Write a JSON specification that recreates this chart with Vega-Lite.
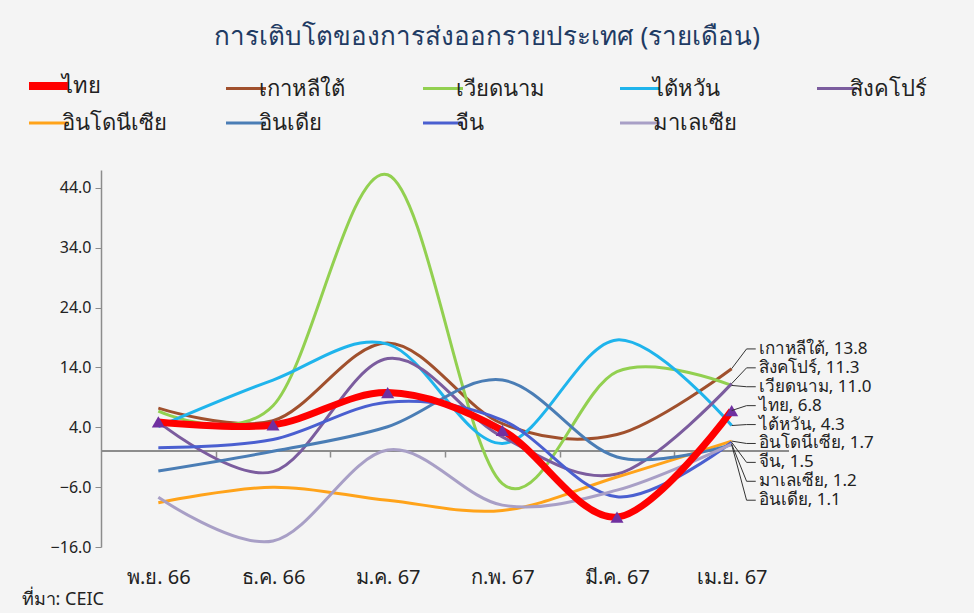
{
  "$schema": "https://vega.github.io/schema/vega-lite/v6.json",
  "width": 688,
  "height": 377,
  "autosize": {"type": "none"},
  "padding": {"left": 101, "top": 170, "right": 185, "bottom": 66},
  "background": "#f4f4f4",
  "config": {"font": "Noto Sans", "view": {"stroke": null}},
  "title": {
    "text": "การเติบโตของการส่งออกรายประเทศ (รายเดือน)",
    "fontSize": 26,
    "fontWeight": "normal",
    "color": "#1f3b63",
    "anchor": "middle",
    "dx": 42,
    "offset": 25
  },
  "datasets": {
    "s": [
      {"country": "ไทย", "m": 0, "value": 4.9},
      {"country": "ไทย", "m": 1, "value": 4.4},
      {"country": "ไทย", "m": 2, "value": 9.8},
      {"country": "ไทย", "m": 3, "value": 3.5},
      {"country": "ไทย", "m": 4, "value": -11.0},
      {"country": "ไทย", "m": 5, "value": 6.8},
      {"country": "เกาหลีใต้", "m": 0, "value": 7.2},
      {"country": "เกาหลีใต้", "m": 1, "value": 5.1},
      {"country": "เกาหลีใต้", "m": 2, "value": 18.1},
      {"country": "เกาหลีใต้", "m": 3, "value": 4.6},
      {"country": "เกาหลีใต้", "m": 4, "value": 2.8},
      {"country": "เกาหลีใต้", "m": 5, "value": 13.8},
      {"country": "เวียดนาม", "m": 0, "value": 6.7},
      {"country": "เวียดนาม", "m": 1, "value": 7.6},
      {"country": "เวียดนาม", "m": 2, "value": 46.2},
      {"country": "เวียดนาม", "m": 3, "value": -5.4},
      {"country": "เวียดนาม", "m": 4, "value": 13.3},
      {"country": "เวียดนาม", "m": 5, "value": 11.0},
      {"country": "ไต้หวัน", "m": 0, "value": 4.1},
      {"country": "ไต้หวัน", "m": 1, "value": 11.9},
      {"country": "ไต้หวัน", "m": 2, "value": 17.9},
      {"country": "ไต้หวัน", "m": 3, "value": 1.3},
      {"country": "ไต้หวัน", "m": 4, "value": 18.6},
      {"country": "ไต้หวัน", "m": 5, "value": 4.3},
      {"country": "สิงคโปร์", "m": 0, "value": 4.9},
      {"country": "สิงคโปร์", "m": 1, "value": -3.4},
      {"country": "สิงคโปร์", "m": 2, "value": 15.5},
      {"country": "สิงคโปร์", "m": 3, "value": 2.4},
      {"country": "สิงคโปร์", "m": 4, "value": -3.8},
      {"country": "สิงคโปร์", "m": 5, "value": 11.3},
      {"country": "อินโดนีเซีย", "m": 0, "value": -8.6},
      {"country": "อินโดนีเซีย", "m": 1, "value": -6.0},
      {"country": "อินโดนีเซีย", "m": 2, "value": -8.2},
      {"country": "อินโดนีเซีย", "m": 3, "value": -9.9},
      {"country": "อินโดนีเซีย", "m": 4, "value": -4.3},
      {"country": "อินโดนีเซีย", "m": 5, "value": 1.7},
      {"country": "อินเดีย", "m": 0, "value": -3.3},
      {"country": "อินเดีย", "m": 1, "value": 0.0},
      {"country": "อินเดีย", "m": 2, "value": 4.1},
      {"country": "อินเดีย", "m": 3, "value": 11.9},
      {"country": "อินเดีย", "m": 4, "value": -0.95},
      {"country": "อินเดีย", "m": 5, "value": 1.1},
      {"country": "จีน", "m": 0, "value": 0.6},
      {"country": "จีน", "m": 1, "value": 1.95},
      {"country": "จีน", "m": 2, "value": 8.2},
      {"country": "จีน", "m": 3, "value": 5.2},
      {"country": "จีน", "m": 4, "value": -7.6},
      {"country": "จีน", "m": 5, "value": 1.5},
      {"country": "มาเลเซีย", "m": 0, "value": -7.7},
      {"country": "มาเลเซีย", "m": 1, "value": -15.0},
      {"country": "มาเลเซีย", "m": 2, "value": 0.2},
      {"country": "มาเลเซีย", "m": 3, "value": -9.0},
      {"country": "มาเลเซีย", "m": 4, "value": -6.5},
      {"country": "มาเลเซีย", "m": 5, "value": 1.2}
    ]
  },
  "data": {"name": "s"},
  "resolve": {"axis": {"x": "independent"}},
  "layer": [
    {
      "mark": {"type": "rule", "color": "#8c8c8c", "strokeWidth": 1.5},
      "encoding": {
        "y": {"datum": 0, "type": "quantitative", "scale": {"domain": [-16, 47], "nice": false, "zero": false}, "axis": {"title": null}}
      }
    },
    {
      "mark": {"type": "point", "opacity": 0},
      "encoding": {
        "x": {
          "field": "m",
          "type": "quantitative",
          "axis": {
            "orient": "bottom",
            "offset": -96,
            "values": [0.5, 1.5, 2.5, 3.5, 4.5],
            "labels": false,
            "domain": false,
            "grid": false,
            "ticks": true,
            "tickSize": 6,
            "tickWidth": 1.5,
            "tickColor": "#8c8c8c",
            "title": null
          }
        },
        "y": {"field": "value", "type": "quantitative"}
      }
    },
    {
      "transform": [{"filter": "datum.country !== 'ไทย'"}],
      "mark": {"type": "line", "interpolate": "cardinal", "strokeWidth": 3},
      "encoding": {
        "x": {
          "field": "m",
          "type": "quantitative",
          "scale": {"domain": [-0.5, 5.5], "nice": false, "zero": false},
          "axis": {
            "orient": "bottom",
            "values": [0, 1, 2, 3, 4, 5],
            "labelExpr": "['พ.ย. 66','ธ.ค. 66','ม.ค. 67','ก.พ. 67','มี.ค. 67','เม.ย. 67'][datum.value]",
            "domain": false,
            "ticks": false,
            "grid": false,
            "labelFontSize": 20,
            "labelColor": "#222222",
            "labelPadding": 20,
            "title": "ที่มา: CEIC",
            "titleFontSize": 18,
            "titleFontWeight": "normal",
            "titleColor": "#222222",
            "titleAnchor": "start",
            "titleAlign": "left",
            "titleBaseline": "middle",
            "titleX": -80,
            "titleY": 52
          }
        },
        "y": {
          "field": "value",
          "type": "quantitative",
          "axis": {
            "title": null,
            "values": [-16, -6, 4, 14, 24, 34, 44],
            "format": ".1f",
            "grid": false,
            "domainColor": "#8c8c8c",
            "domainWidth": 1.5,
            "tickColor": "#8c8c8c",
            "tickSize": 6,
            "labelFontSize": 16,
            "labelColor": "#222222",
            "labelPadding": 4
          }
        },
        "color": {
          "field": "country",
          "type": "nominal",
          "scale": {
            "domain": ["ไทย", "เกาหลีใต้", "เวียดนาม", "ไต้หวัน", "สิงคโปร์", "อินโดนีเซีย", "อินเดีย", "จีน", "มาเลเซีย"],
            "range": ["#ff0000", "#a0502d", "#92d050", "#1fb4ec", "#7b5c9e", "#ffa31a", "#4a7db5", "#4a5fd0", "#a89fc6"]
          },
          "legend": {
            "orient": "none",
            "legendX": -63,
            "legendY": -95,
            "direction": "horizontal",
            "columns": 5,
            "gridAlign": "all",
            "title": null,
            "symbolType": "stroke",
            "symbolSize": 1600,
            "symbolStrokeWidth": 3,
            "labelFontSize": 22,
            "labelColor": "#222222",
            "labelOffset": 2,
            "columnPadding": 53,
            "rowPadding": 10,
            "encode": {"symbols": {"update": {"strokeWidth": {"signal": "datum.value === 'ไทย' ? 8 : 3"}}}}
          }
        },
        "detail": {"field": "country"}
      }
    },
    {
      "transform": [{"filter": "datum.country === 'ไทย'"}],
      "mark": {"type": "line", "interpolate": "cardinal", "strokeWidth": 7},
      "encoding": {
        "x": {"field": "m", "type": "quantitative", "axis": null},
        "y": {"field": "value", "type": "quantitative"},
        "color": {"field": "country", "type": "nominal"}
      }
    },
    {
      "transform": [{"filter": "datum.country === 'ไทย'"}],
      "mark": {"type": "point", "shape": "triangle-up", "filled": true, "color": "#7030a0", "opacity": 1, "size": 170},
      "encoding": {
        "x": {"field": "m", "type": "quantitative", "axis": null},
        "y": {"field": "value", "type": "quantitative"}
      }
    },
    {
      "transform": [
        {"filter": "datum.m === 5"},
        {"window": [{"op": "row_number", "as": "r"}], "sort": [{"field": "value", "order": "descending"}]},
        {"calculate": "17.1 - (datum.r - 1) * 3.16", "as": "ly"},
        {"calculate": "5.13", "as": "lx"},
        {"calculate": "5.21", "as": "lx2"},
        {"calculate": "datum.country + ', ' + format(datum.value, '.1f')", "as": "label"}
      ],
      "layer": [
        {
          "mark": {"type": "rule", "color": "#333333", "strokeWidth": 1},
          "encoding": {
            "x": {"field": "m", "type": "quantitative", "axis": null},
            "x2": {"field": "lx"},
            "y": {"field": "value", "type": "quantitative"},
            "y2": {"field": "ly"}
          }
        },
        {
          "mark": {"type": "rule", "color": "#333333", "strokeWidth": 1},
          "encoding": {
            "x": {"field": "lx", "type": "quantitative", "axis": null},
            "x2": {"field": "lx2"},
            "y": {"field": "ly", "type": "quantitative"}
          }
        },
        {
          "mark": {"type": "text", "align": "left", "baseline": "middle", "dx": 3, "fontSize": 17, "color": "#222222"},
          "encoding": {
            "x": {"field": "lx2", "type": "quantitative", "axis": null},
            "y": {"field": "ly", "type": "quantitative"},
            "text": {"field": "label"}
          }
        }
      ]
    }
  ]
}
